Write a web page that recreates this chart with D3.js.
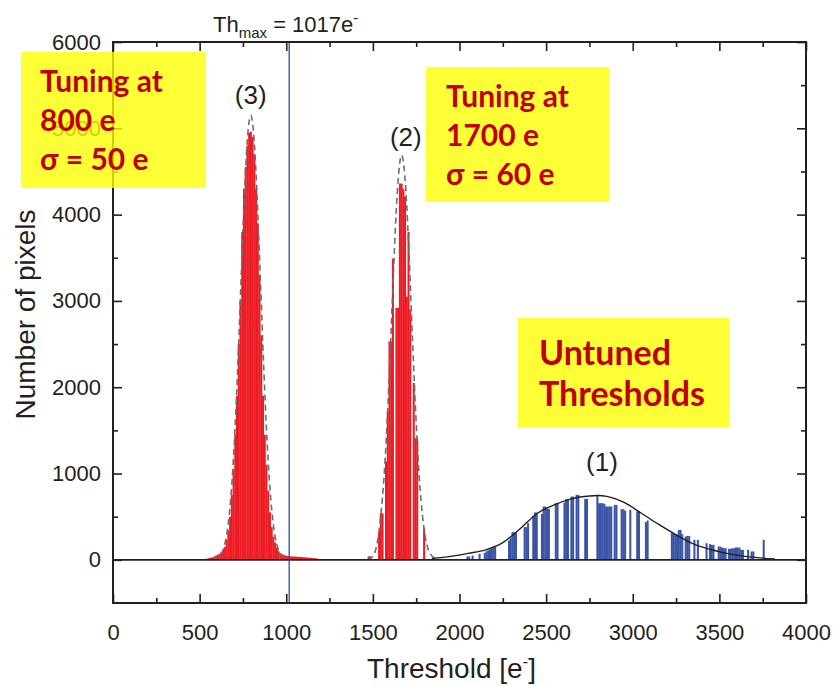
<!DOCTYPE html>
<html>
<head>
<meta charset="utf-8">
<script src="https://cdn.jsdelivr.net/npm/d3@7"></script>
<style>
  body { margin: 0; background: #fff; }
  text { font-family: 'Liberation Sans', Arial, Helvetica, sans-serif; fill: #231f20; }
  .note { font-family: Lato, 'Open Sans', sans-serif; font-weight: bold; fill: #c00000; }
</style>
</head>
<body>
<div id="chart"></div>
<script>
// frame
const FRAME_WIDTH = 838;
const FRAME_HEIGHT = 686;
const MARGINS = {left: 113, right: 32, top: 42, bottom: 83};

// axis ticks
const X_TICKS = [0, 500, 1000, 1500, 2000, 2500, 3000, 3500, 4000];
const X_MINOR = [250, 750, 1250, 1750, 2250, 2750, 3250, 3750];
const Y_TICKS = [0, 1000, 2000, 3000, 4000, 5000, 6000];
const Y_MINOR = [500, 1500, 2500, 3500, 4500, 5500];

const BIN_WIDTH = 10;
const TH_MAX = 1017;

// (3) tuned at 800 e
const PEAK3_X = [530, 540, 550, 560, 570, 580, 590, 600, 610, 620, 630, 640, 650, 660, 670, 680, 690,
                 700, 710, 720, 730, 740, 750, 760, 770, 780, 790, 800, 810, 820, 830, 840, 850, 860,
                 870, 880, 890, 900, 910, 920, 930, 940, 950, 960, 970, 980, 990, 1000, 1010, 1020,
                 1030, 1040, 1050, 1060, 1070, 1080, 1090, 1100, 1110, 1120, 1130, 1140, 1150, 1160,
                 1170, 1180, 1190];
const PEAK3_N = [10, 15, 20, 25, 30, 40, 50, 60, 70, 90, 110, 150, 230, 340, 500, 750, 1050,
                 1450, 1900, 2500, 3000, 3800, 4300, 4550, 4800, 4950, 4960, 4900, 4700, 4300, 3900, 3300, 2600, 1900,
                 1450, 1100, 800, 550, 380, 270, 200, 140, 100, 80, 65, 55, 50, 45, 42, 40,
                 40, 38, 36, 35, 35, 33, 30, 30, 28, 25, 24, 22, 20, 18, 15,
                 12, 8];

// (2) tuned at 1700 e
const PEAK2_X = [1470, 1480, 1530, 1540, 1550, 1570, 1580, 1590, 1600, 1610, 1630, 1640, 1650,
                 1660, 1670, 1680, 1690, 1700, 1710, 1730, 1740, 1750, 1790];
const PEAK2_N = [40, 40, 330, 540, 540, 1140, 1720, 2530, 2530, 3490, 2920, 2920, 4360,
                 4360, 4300, 4210, 3050, 3800, 2900, 2050, 1410, 1410, 370];

// (1) untuned thresholds
const UNTUNED_X = [2040, 2050, 2070, 2110, 2140, 2150, 2160, 2170, 2180, 2190, 2200,
                   2280, 2290, 2300, 2310, 2320, 2370, 2380, 2390, 2420, 2430, 2440,
                   2470, 2480, 2490, 2500, 2510, 2550, 2560, 2600, 2610, 2620, 2640, 2650,
                   2670, 2680, 2720, 2730, 2790, 2800, 2810, 2820, 2830, 2840, 2850, 2860, 2870,
                   2890, 2900, 2930, 2940, 2950, 2980, 3020, 3030, 3070, 3080,
                   3220, 3230, 3240, 3250, 3260, 3270, 3280, 3300, 3310, 3320, 3350, 3370,
                   3420, 3440, 3450, 3460, 3490, 3500, 3510, 3520, 3530, 3550, 3560, 3570, 3580,
                   3590, 3600, 3610, 3620, 3630, 3660, 3680, 3690, 3750];
const UNTUNED_N = [38, 38, 50, 70, 80, 100, 110, 120, 130, 150, 150,
                   224, 250, 320, 320, 320, 379, 379, 425, 510, 548, 548,
                   532, 618, 618, 590, 590, 656, 656, 664, 703, 703, 733, 733,
                   753, 753, 707, 707, 745, 656, 656, 656, 649, 618, 618, 618, 618,
                   637, 637, 587, 587, 571, 579, 560, 560, 437, 456,
                   309, 309, 297, 290, 347, 347, 297, 270, 277, 277, 232, 232,
                   193, 181, 174, 174, 154, 154, 143, 135, 135, 128, 128, 135, 135,
                   143, 143, 143, 116, 116, 116, 97, 97, 232];

// fitted curves
const FIT3_X = [580, 600, 620, 640, 660, 680, 700, 720, 740, 760, 780, 795, 810, 830, 850, 870, 890, 910, 930, 950, 970, 990, 1010];
const FIT3_Y = [5, 18, 55, 145, 343, 720, 1347, 2232, 3285, 4292, 4980, 5150, 4980, 4292, 3285, 2232, 1347, 720, 343, 145, 55, 18, 5];
const FIT2_X = [1470, 1500, 1540, 1570, 1600, 1620, 1640, 1666, 1690, 1710, 1730, 1750, 1770, 1800, 1830, 1870];
const FIT2_Y = [5, 40, 408, 1136, 2398, 3387, 4226, 4690, 4292, 3482, 2497, 1585, 889, 296, 75, 5];
const FIT1_X = [1840, 1950, 2050, 2150, 2250, 2350, 2450, 2550, 2650, 2750, 2800, 2850, 2950, 3050, 3150, 3250, 3350, 3450, 3550, 3650, 3750, 3820];
const FIT1_Y = [15, 40, 75, 115, 200, 360, 540, 640, 710, 740, 745, 735, 665, 540, 410, 290, 185, 120, 72, 40, 20, 10];

// peak labels
const PEAK_LABELS = ['(3)', '(2)', '(1)'];
const PEAK_LABEL_X = [795, 1690, 2822];
const PEAK_LABEL_Y = [5280, 4800, 1031];

const FRAME = d3.select('#chart')
                .append('svg')
                    .attr('width', FRAME_WIDTH)
                    .attr('height', FRAME_HEIGHT);

const X_SCALE = d3.scaleLinear()
    .domain([0, 4000])
    .range([MARGINS.left, FRAME_WIDTH - MARGINS.right]);

const Y_SCALE = d3.scaleLinear()
    .domain([-500, 6000])
    .range([FRAME_HEIGHT - MARGINS.bottom, MARGINS.top]);

const LEFT = MARGINS.left;
const RIGHT = FRAME_WIDTH - MARGINS.right;
const TOP = MARGINS.top;
const BOTTOM = FRAME_HEIGHT - MARGINS.bottom;

// histogram bars
function drawBars(xs, ns, color) {
    const data = xs.map((x, i) => ({x: x, n: ns[i]}));
    FRAME.append('g').selectAll('rect')
        .data(data)
        .enter()
        .append('rect')
        .attr('x', d => X_SCALE(d.x))
        .attr('width', d => X_SCALE(d.x + BIN_WIDTH) - X_SCALE(d.x) + 0.3)
        .attr('y', d => Y_SCALE(d.n))
        .attr('height', d => Y_SCALE(0) - Y_SCALE(d.n))
        .attr('fill', color);
}

drawBars(PEAK3_X, PEAK3_N, '#ed1c24');
drawBars(PEAK2_X, PEAK2_N, '#ed1c24');
drawBars(UNTUNED_X, UNTUNED_N, '#3a53a4');

// fit curves
const line = d3.line()
    .x(d => X_SCALE(d[0]))
    .y(d => Y_SCALE(d[1]))
    .curve(d3.curveMonotoneX);

FRAME.append('path')
    .attr('d', line(FIT3_X.map((x, i) => [x, FIT3_Y[i]])))
    .attr('fill', 'none')
    .attr('stroke', '#6d6e71')
    .attr('stroke-width', 1.6)
    .attr('stroke-dasharray', '6,4');

FRAME.append('path')
    .attr('d', line(FIT2_X.map((x, i) => [x, FIT2_Y[i]])))
    .attr('fill', 'none')
    .attr('stroke', '#6d6e71')
    .attr('stroke-width', 1.6)
    .attr('stroke-dasharray', '6,4');

FRAME.append('path')
    .attr('d', line(FIT1_X.map((x, i) => [x, FIT1_Y[i]])))
    .attr('fill', 'none')
    .attr('stroke', '#231f20')
    .attr('stroke-width', 1.4);

// zero line
FRAME.append('line')
    .attr('x1', LEFT).attr('x2', RIGHT)
    .attr('y1', Y_SCALE(0)).attr('y2', Y_SCALE(0))
    .attr('stroke', '#231f20')
    .attr('stroke-width', 1.8);

// Th max line
FRAME.append('line')
    .attr('x1', X_SCALE(TH_MAX)).attr('x2', X_SCALE(TH_MAX))
    .attr('y1', TOP).attr('y2', BOTTOM)
    .attr('stroke', '#2e4fa8')
    .attr('stroke-width', 1.3);

// axes with inward ticks
function styleAxis(g) {
    g.select('.domain').remove();
    g.selectAll('line').attr('stroke', '#231f20').attr('stroke-width', 1.6);
    g.selectAll('text').attr('font-size', '22px').attr('fill', '#231f20')
        .attr('font-family', "'Liberation Sans', Arial, sans-serif");
}

FRAME.append('g')
    .attr('transform', 'translate(0,' + BOTTOM + ')')
    .call(d3.axisBottom(X_SCALE).tickValues(X_TICKS).tickSize(-9).tickPadding(21).tickFormat(d3.format('d')))
    .call(styleAxis);
FRAME.append('g')
    .attr('transform', 'translate(0,' + BOTTOM + ')')
    .call(d3.axisBottom(X_SCALE).tickValues(X_MINOR).tickSize(-5).tickFormat(''))
    .call(styleAxis);
FRAME.append('g')
    .attr('transform', 'translate(0,' + TOP + ')')
    .call(d3.axisTop(X_SCALE).tickValues(X_TICKS).tickSize(-9).tickFormat(''))
    .call(styleAxis);
FRAME.append('g')
    .attr('transform', 'translate(0,' + TOP + ')')
    .call(d3.axisTop(X_SCALE).tickValues(X_MINOR).tickSize(-5).tickFormat(''))
    .call(styleAxis);

FRAME.append('g')
    .attr('transform', 'translate(' + LEFT + ',0)')
    .call(d3.axisLeft(Y_SCALE).tickValues(Y_TICKS).tickSize(-9).tickPadding(12).tickFormat(d3.format('d')))
    .call(styleAxis);
FRAME.append('g')
    .attr('transform', 'translate(' + LEFT + ',0)')
    .call(d3.axisLeft(Y_SCALE).tickValues(Y_MINOR).tickSize(-5).tickFormat(''))
    .call(styleAxis);
FRAME.append('g')
    .attr('transform', 'translate(' + RIGHT + ',0)')
    .call(d3.axisRight(Y_SCALE).tickValues(Y_TICKS).tickSize(-9).tickFormat(''))
    .call(styleAxis);
FRAME.append('g')
    .attr('transform', 'translate(' + RIGHT + ',0)')
    .call(d3.axisRight(Y_SCALE).tickValues(Y_MINOR).tickSize(-5).tickFormat(''))
    .call(styleAxis);

// frame box
FRAME.append('rect')
    .attr('x', LEFT).attr('y', TOP)
    .attr('width', RIGHT - LEFT).attr('height', BOTTOM - TOP)
    .attr('fill', 'none')
    .attr('stroke', '#231f20')
    .attr('stroke-width', 2);

// axis titles
const xTitle = FRAME.append('text')
    .attr('x', (LEFT + RIGHT) / 2 - 8)
    .attr('y', 678)
    .attr('text-anchor', 'middle')
    .attr('font-size', '28px');
xTitle.append('tspan').text('Threshold [e');
xTitle.append('tspan').attr('dy', -11).attr('font-size', '17px').text('-');
xTitle.append('tspan').attr('dy', 11).text(']');

FRAME.append('text')
    .attr('transform', 'translate(35,' + ((TOP + BOTTOM) / 2 - 8) + ') rotate(-90)')
    .attr('text-anchor', 'middle')
    .attr('font-size', '28px')
    .text('Number of pixels');

// Th max label
const thLabel = FRAME.append('text')
    .attr('x', 213)
    .attr('y', 32)
    .attr('font-size', '22px');
thLabel.append('tspan').text('Th');
thLabel.append('tspan').attr('dy', 6).attr('font-size', '15px').text('max');
thLabel.append('tspan').attr('dy', -6).text(' = 1017e');
thLabel.append('tspan').attr('dy', -9).attr('font-size', '15px').text('-');

FRAME.append('g').selectAll('text')
    .data(PEAK_LABELS)
    .enter()
    .append('text')
    .attr('x', (d, i) => X_SCALE(PEAK_LABEL_X[i]))
    .attr('y', (d, i) => Y_SCALE(PEAK_LABEL_Y[i]))
    .attr('text-anchor', 'middle')
    .attr('font-size', '26px')
    .text(d => d);

// yellow notes
const NOTES = [
    {box: [21, 52, 185, 136], x: 40, lines: ['Tuning at', '800 e', 'σ = 50 e'], y0: 92, dy: 39, size: 30},
    {box: [426, 67, 183, 135], x: 446, lines: ['Tuning at', '1700 e', 'σ = 60 e'], y0: 107, dy: 39, size: 30},
    {box: [518, 318, 211, 109], x: 539, lines: ['Untuned', 'Thresholds'], y0: 365, dy: 41, size: 34}
];

NOTES.forEach(n => {
    FRAME.append('rect')
        .attr('x', n.box[0]).attr('y', n.box[1])
        .attr('width', n.box[2]).attr('height', n.box[3])
        .attr('fill', '#ffff00')
        .attr('fill-opacity', 0.78);
    n.lines.forEach((t, i) => {
        FRAME.append('text')
            .attr('class', 'note')
            .attr('x', n.x)
            .attr('y', n.y0 + i * n.dy)
            .attr('font-size', n.size + 'px')
            .text(t);
    });
});
</script>
</body>
</html>
